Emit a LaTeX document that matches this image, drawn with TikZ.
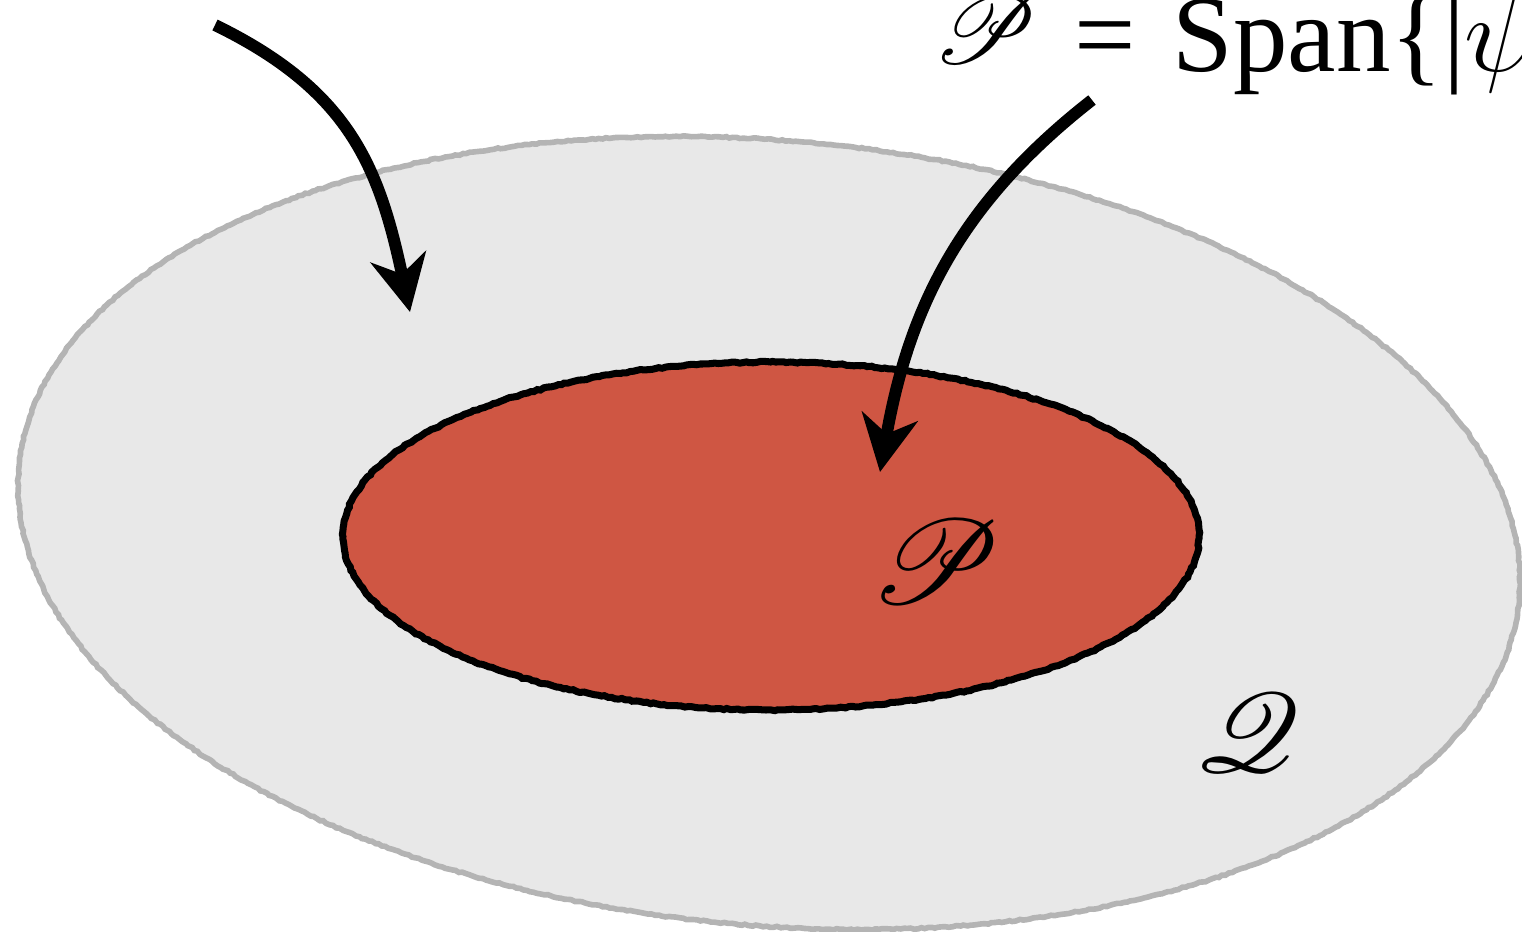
\RequirePackage{fix-cm}
\documentclass[tikz,border=0pt]{standalone}
\usepackage{fontspec}
\setmainfont{Liberation Serif}
\usepackage{mathrsfs}
% let the script letters scale freely
\DeclareFontFamily{U}{rsfs}{\skewchar\font127 }
\DeclareFontShape{U}{rsfs}{m}{n}{<-6> rsfs5 <6-8> rsfs7 <8-> rsfs10}{}
\usetikzlibrary{arrows.meta,decorations.pathmorphing}
\definecolor{SetGray}{RGB}{232,232,232}
\definecolor{EdgeGray}{RGB}{180,180,180}
\definecolor{SetRed}{RGB}{207,86,67}
\tikzset{
  pencil/.style={decorate,decoration={random steps,segment length=1pt,amplitude=0.2pt}},
  outerset/.style={fill=SetGray,draw=EdgeGray,line width=1.6pt,pencil},
  innerset/.style={fill=SetRed,draw=black,line width=2pt,pencil},
  pointer/.style={draw=black,line width=3.4pt,-{Stealth[length=16pt,width=16pt,inset=5pt]}},
  setlabel/.style={inner sep=0pt,font=\fontsize{34}{40}\selectfont},
  toplabel/.style={inner sep=0pt,font=\fontsize{31}{36}\selectfont},
}

\begin{document}
\begin{tikzpicture}
  \clip (0,0) rectangle (15.22,9.31);

  % the two sets, Q around P
  \path[outerset,rotate around={-5:(7.69,3.98)}] (7.69,3.98) ellipse (7.53 and 3.925);
  \path[innerset] (7.71,3.95) ellipse (4.28 and 1.74);

  \node[setlabel] (plabel) at (9.36,3.69) {$\mathscr{P}$};
  \node[setlabel,font=\fontsize{32}{38}\selectfont] (qlabel) at (12.48,1.98) {$\mathscr{Q}$};

  % label at the top, cut by the frame
  \node[toplabel,anchor=base west] (span) at (9.33,8.60)
    {\raisebox{0.08cm}{\fontsize{27}{32}\selectfont$\mathscr{P}$}\hspace{0.37cm}=\hspace{0.37cm}Span\{|$\psi_i\rangle$\}};

  % pointers into the two regions
  \coordinate (qfrom) at (2.15,9.06);
  \coordinate (qto) at (4.10,6.19);
  \coordinate (pfrom) at (10.92,8.31);
  \coordinate (pto) at (8.80,4.59);
  \draw[pointer] (qfrom) to[out=-26,in=102,looseness=1.1] (qto);
  \draw[pointer] (pfrom) to[out=218,in=80] (pto);
\end{tikzpicture}
\end{document}
